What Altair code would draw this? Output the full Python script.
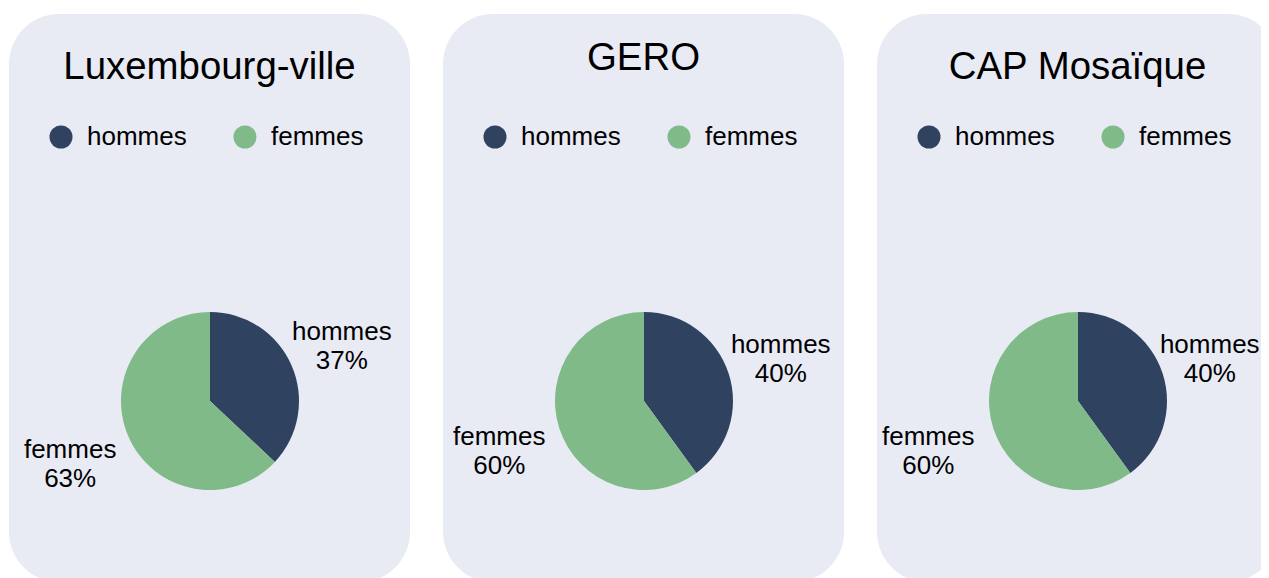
import altair as alt
import pandas as pd

# ---- data ----
panels = ["Luxembourg-ville", "GERO", "CAP Mosaïque"]
sexes = ["hommes", "femmes"]
hommes_pct = [37, 40, 40]
femmes_pct = [63, 60, 60]

# ---- style ----
COLORS = ["#2F4260", "#7FBA88"]
BG = "#E8EAF4"
FONT = "Liberation Sans"
W, H = 401, 568
CX, CY = 201, 387
title_y = {"Luxembourg-ville": 65, "GERO": 56, "CAP Mosaïque": 65}
label_shift = {"Luxembourg-ville": 0, "GERO": 0, "CAP Mosaïque": -5}


def panel(i):
    name = panels[i]
    vals = [hommes_pct[i], femmes_pct[i]]
    df = pd.DataFrame({
        "sexe": sexes,
        "pct": vals,
        "ordre": list(range(len(sexes))),
        "label": [f"{s}\n{v}%" for s, v in zip(sexes, vals)],
    })
    base = alt.Chart(df).encode(
        theta=alt.Theta("pct:Q", stack=True),
        order=alt.Order("ordre:Q"),
    )
    pie = base.mark_arc(outerRadius=89, stroke="transparent").encode(
        color=alt.Color(
            "sexe:N",
            scale=alt.Scale(domain=sexes, range=COLORS),
            legend=alt.Legend(
                title=None,
                orient="none",
                legendX=39,
                legendY=110,
                direction="horizontal",
                symbolType="circle",
                symbolSize=530,
                symbolStrokeWidth=0,
                labelFontSize=26,
                labelFont=FONT,
                labelColor="black",
                labelOffset=13,
                columnPadding=45,
                padding=0,
            ),
        ),
        x=alt.value(CX),
        y=alt.value(CY),
    )
    labels = base.mark_text(
        radius=148, fontSize=26, lineHeight=29, lineBreak="\n", font=FONT,
        color="black", align="center", baseline="middle",
        dx=label_shift[name],
    ).encode(
        text="label:N",
        x=alt.value(CX - 4),
        y=alt.value(CY - 10),
    )
    title = alt.Chart(pd.DataFrame({"nom": [name]})).mark_text(
        fontSize=38.4, font=FONT, color="black", align="center", baseline="alphabetic",
    ).encode(
        text="nom:N",
        x=alt.value(W / 2),
        y=alt.value(title_y[name]),
    )
    return alt.layer(pie, labels, title).properties(width=W, height=H)


chart = alt.hconcat(*[panel(i) for i in range(len(panels))], spacing=33).resolve_scale(
    color="independent"
).resolve_legend(color="independent").properties(
    padding={"left": 1, "top": 6, "right": -17, "bottom": -4}
).configure(font=FONT).configure_view(
    fill=BG, cornerRadius=50, stroke="transparent", strokeWidth=0
)

chart.save("out.html", embed_options={"renderer": "svg", "actions": False})
